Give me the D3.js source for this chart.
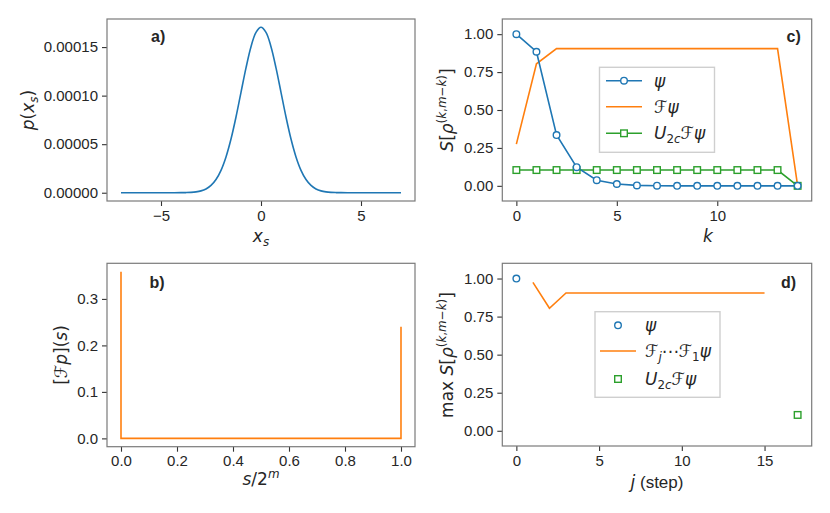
<!DOCTYPE html>
<html><head><meta charset="utf-8">
<script src="https://cdn.jsdelivr.net/npm/d3@7"></script>
<style>
body{margin:0;background:#fff;}
text{font-family:"Liberation Sans",Arial,sans-serif;fill:#262626;}
.m{font-family:"DejaVu Sans",sans-serif;}
</style></head>
<body><svg id="c" width="830" height="513"></svg>
<script>
// ---------- data ----------
const gaussX = [-7,-6,-5,-4.5,-4,-3.75,-3.5,-3.25,-3,-2.75,-2.5,-2.25,-2,-1.75,-1.5,-1.25,-1,-0.75,-0.5,-0.25,0,0.25,0.5,0.75,1,1.25,1.5,1.75,2,2.25,2.5,2.75,3,3.25,3.5,3.75,4,4.5,5,6,7];
const gaussP = [0,0,0,0.000000007,0.00000006,0.00000015,0.00000037,0.00000087,0.0000019,0.0000039,0.0000075,0.0000136,0.0000231,0.0000369,0.0000553,0.0000780,0.0001034,0.0001286,0.0001504,0.0001652,0.0001704,0.0001652,0.0001504,0.0001286,0.0001034,0.0000780,0.0000553,0.0000369,0.0000231,0.0000136,0.0000075,0.0000039,0.0000019,0.00000087,0.00000037,0.00000015,0.00000006,0.000000007,0,0,0];
const aYTicks = [0,0.00005,0.0001,0.00015];
const aXTicks = [-5,0,5];

const fpS = [0,0.00003,0.99997,1.0];
const fpV = [0.3585,0,0,0.24];
const bYTicks = [0,0.1,0.2,0.3];
const bXTicks = [0,0.2,0.4,0.6,0.8,1.0];

const kVals = [0,1,2,3,4,5,6,7,8,9,10,11,12,13,14];
const psiS = [1.00,0.884,0.335,0.123,0.037,0.012,0.003,0.001,0,0,0,0,0,0,0];
const fpsiS = [0.275,0.805,0.905,0.905,0.905,0.905,0.905,0.905,0.905,0.905,0.905,0.905,0.905,0.905,0];
const u2cS = [0.104,0.104,0.104,0.104,0.104,0.104,0.104,0.104,0.104,0.104,0.104,0.104,0.104,0.104,0];
const cYTicks = [0,0.25,0.5,0.75,1.0];
const cXTicks = [0,5,10];

const dPsiJ = [0], dPsiV = [1.0];
const dFJ = [1,2,3,4,5,6,7,8,9,10,11,12,13,14,15];
const dFV = [0.975,0.805,0.905,0.905,0.905,0.905,0.905,0.905,0.905,0.905,0.905,0.905,0.905,0.905,0.905];
const dUJ = [17], dUV = [0.104];
const dYTicks = [0,0.25,0.5,0.75,1.0];
const dXTicks = [0,5,10,15];

const BLUE="#1f77b4", ORANGE="#ff7f0e", GREEN="#2ca02c";
const svg = d3.select("#c");

function panel(box, xd, yd, xt, yt, xfmt, yfmt){
  const x = d3.scaleLinear().domain(xd).range([box.x0, box.x1]);
  const y = d3.scaleLinear().domain(yd).range([box.y1, box.y0]);
  const g = svg.append("g");
  const ax = g.append("g").attr("transform",`translate(0,${box.y1})`)
    .call(d3.axisBottom(x).tickValues(xt).tickFormat(xfmt).tickSize(5).tickPadding(4).tickSizeOuter(0));
  const ay = g.append("g").attr("transform",`translate(${box.x0},0)`)
    .call(d3.axisLeft(y).tickValues(yt).tickFormat(yfmt).tickSize(5).tickPadding(4).tickSizeOuter(0));
  [ax,ay].forEach(a=>{
    a.select(".domain").remove();
    a.selectAll("line").attr("stroke","#333").attr("stroke-width",1.1);
    a.selectAll("text").style("font-family","'Liberation Sans',Arial,sans-serif").style("font-size","15px").attr("fill","#262626");
  });
  const clipId = "cl"+Math.round(box.x0)+"_"+Math.round(box.y0);
  svg.append("clipPath").attr("id",clipId).append("rect")
    .attr("x",box.x0).attr("y",box.y0).attr("width",box.x1-box.x0).attr("height",box.y1-box.y0);
  const plot = svg.append("g").attr("clip-path",`url(#${clipId})`);
  svg.append("rect").attr("x",box.x0).attr("y",box.y0)
    .attr("width",box.x1-box.x0).attr("height",box.y1-box.y0)
    .attr("fill","none").attr("stroke","#7a7a7a").attr("stroke-width",1.2);
  return {x,y,plot,g};
}

// rich text helper: parts = [[text, style]] style tokens: i italic, sup, sub, cal, rm
function rich(parent, x, y, parts, size, opts={}){
  const t = parent.append("text").attr("class","m").attr("x",x).attr("y",y)
    .style("font-size",size+"px").attr("text-anchor",opts.anchor||"middle");
  if(opts.rotate) t.attr("transform",`rotate(-90,${x},${y})`);
  let level = 0;
  parts.forEach(p=>{
    const toks = (p[1]||"").split(" ");
    const has = k=>toks.includes(k);
    const tgt = has("sup")?-0.42:(has("sub")?0.22:0);
    const ts = t.append("tspan").text(p[0]);
    if(has("i")) ts.style("font-style","italic");
    if(tgt!==level){ ts.attr("dy",((tgt-level)*size).toFixed(2)); level=tgt; }
    if(has("sup")||has("sub")) ts.style("font-size",(size*0.7)+"px");
    if(has("rm")) ts.style("font-family","'Liberation Sans',Arial,sans-serif");
  });
  return t;
}
function plabel(x,y,txt){
  svg.append("text").attr("x",x).attr("y",y).text(txt)
    .style("font-size","16px").style("font-weight","bold").attr("fill","#222");
}

// ---------- panel a ----------
const A = panel({x0:107,x1:415,y0:19,y1:201},[-7.7,7.7],[-0.00000852,0.00017892],aXTicks,aYTicks,
  d=>d<0?"\u2212"+Math.abs(d):d, d=>d3.format(".5f")(d));
A.plot.append("path").datum(gaussX.map((v,i)=>[v,gaussP[i]]))
  .attr("d",d3.line().x(d=>A.x(d[0])).y(d=>A.y(d[1])).curve(d3.curveCatmullRom))
  .attr("fill","none").attr("stroke",BLUE).attr("stroke-width",1.6);
plabel(151,42,"a)");
rich(svg,261,242,[["x","i"],["s","i sub"]],17);
rich(svg,34,110,[["p","i"],["(",""],["x","i"],["s","i sub"],[")",""]],17,{rotate:true});

// ---------- panel b ----------
const B = panel({x0:107,x1:415,y0:263.3,y1:446.7},[-0.05,1.05],[-0.0179,0.3766],bXTicks,bYTicks,
  d=>d3.format(".1f")(d), d=>d3.format(".1f")(d));
B.plot.append("path").datum(fpS.map((v,i)=>[v,fpV[i]]))
  .attr("d",d3.line().x(d=>B.x(d[0])).y(d=>B.y(d[1])))
  .attr("fill","none").attr("stroke",ORANGE).attr("stroke-width",1.6);
plabel(149.5,287.5,"b)");
rich(svg,261,485,[["s","i"],["/2",""],["m","i sup"]],17);
rich(svg,67,355,[["[",""],["\u2131",""],["p","i"],["](",""],["s","i"],[")",""]],17,{rotate:true});

// ---------- panel c ----------
const C = panel({x0:502.3,x1:811.7,y0:19,y1:201},[-0.7,14.7],[-0.1,1.1],cXTicks,cYTicks,
  d=>d, d=>d3.format(".2f")(d));
const lineC = (vals)=>d3.line().x((d,i)=>C.x(kVals[i])).y(d=>C.y(d))(vals);
C.plot.append("path").attr("d",lineC(fpsiS)).attr("fill","none").attr("stroke",ORANGE).attr("stroke-width",1.6);
C.plot.append("path").attr("d",lineC(u2cS)).attr("fill","none").attr("stroke",GREEN).attr("stroke-width",1.6);
C.plot.append("path").attr("d",lineC(psiS)).attr("fill","none").attr("stroke",BLUE).attr("stroke-width",1.6);
C.plot.selectAll(".sq").data(u2cS).join("rect").attr("x",(d,i)=>C.x(kVals[i])-3.3).attr("y",d=>C.y(d)-3.3)
  .attr("width",6.6).attr("height",6.6).attr("fill","#fff").attr("stroke",GREEN).attr("stroke-width",1.4);
C.plot.selectAll(".ci").data(psiS).join("circle").attr("cx",(d,i)=>C.x(kVals[i])).attr("cy",d=>C.y(d))
  .attr("r",3.3).attr("fill","#fff").attr("stroke",BLUE).attr("stroke-width",1.4);
plabel(786.5,42,"c)");
rich(svg,708,242,[["k","i"]],17);
rich(svg,453,110,[["S","i"],["[",""],["\u03c1","i"],["(","sup"],["k","i sup"],[",","sup"],["m","i sup"],["\u2212","sup"],["k","i sup"],[")","sup"],["]",""]],17,{rotate:true});

function legend(x0,y0,w,h,rows){
  const g = svg.append("g");
  g.append("rect").attr("x",x0).attr("y",y0).attr("width",w).attr("height",h)
    .attr("fill","#fff").attr("fill-opacity",0.85).attr("stroke","#cfcfcf").attr("stroke-width",1.4);
  rows.forEach(r=>{
    if(r.line) g.append("line").attr("x1",r.lx1).attr("x2",r.lx2).attr("y1",r.y).attr("y2",r.y)
      .attr("stroke",r.color).attr("stroke-width",1.6);
    const mx=(r.lx1+r.lx2)/2;
    if(r.marker==="o") g.append("circle").attr("cx",mx).attr("cy",r.y).attr("r",3.3).attr("fill","#fff").attr("stroke",r.color).attr("stroke-width",1.4);
    if(r.marker==="s") g.append("rect").attr("x",mx-3.3).attr("y",r.y-3.3).attr("width",6.6).attr("height",6.6).attr("fill","#fff").attr("stroke",r.color).attr("stroke-width",1.4);
    rich(g,r.tx,r.y+6,r.parts,17,{anchor:"start"});
  });
}
legend(599.5,67.3,115,85,[
  {y:80.7,lx1:606,lx2:642,color:BLUE,line:true,marker:"o",tx:654,parts:[["\u03c8","i"]]},
  {y:106.7,lx1:606,lx2:642,color:ORANGE,line:true,tx:654,parts:[["\u2131",""],["\u03c8","i"]]},
  {y:133.3,lx1:606,lx2:642,color:GREEN,line:true,marker:"s",tx:654,parts:[["U","i"],["2","sub"],["c","i sub"],["\u2131",""],["\u03c8","i"]]}
]);

// ---------- panel d ----------
const D = panel({x0:502.3,x1:811.7,y0:263.3,y1:446},[-0.85,17.85],[-0.1,1.1],dXTicks,dYTicks,
  d=>d, d=>d3.format(".2f")(d));
D.plot.append("path").datum(dFJ.map((v,i)=>[v,dFV[i]]))
  .attr("d",d3.line().x(d=>D.x(d[0])).y(d=>D.y(d[1])))
  .attr("fill","none").attr("stroke",ORANGE).attr("stroke-width",1.6);
D.plot.selectAll(".ci").data(dPsiJ).join("circle").attr("cx",d=>D.x(d)).attr("cy",(d,i)=>D.y(dPsiV[i]))
  .attr("r",3.3).attr("fill","#fff").attr("stroke",BLUE).attr("stroke-width",1.4);
D.plot.selectAll(".sq").data(dUJ).join("rect").attr("x",d=>D.x(d)-3.3).attr("y",(d,i)=>D.y(dUV[i])-3.3)
  .attr("width",6.6).attr("height",6.6).attr("fill","#fff").attr("stroke",GREEN).attr("stroke-width",1.4);
plabel(781,287.5,"d)");
rich(svg,657,488,[["j","i"],[" (step)","rm"]],17);
rich(svg,453,355,[["max ",""],["S","i"],["[",""],["\u03c1","i"],["(","sup"],["k","i sup"],[",","sup"],["m","i sup"],["\u2212","sup"],["k","i sup"],[")","sup"],["]",""]],17,{rotate:true});

legend(595,311.7,125,85.6,[
  {y:325.3,lx1:600,lx2:636,color:BLUE,marker:"o",tx:645,parts:[["\u03c8","i"]]},
  {y:351,lx1:600,lx2:636,color:ORANGE,line:true,tx:645,parts:[["\u2131",""],["j","i sub"],["\u22ef",""],["\u2131",""],["1","sub"],["\u03c8","i"]]},
  {y:379,lx1:600,lx2:636,color:GREEN,marker:"s",tx:645,parts:[["U","i"],["2","sub"],["c","i sub"],["\u2131",""],["\u03c8","i"]]}
]);
</script></body></html>
